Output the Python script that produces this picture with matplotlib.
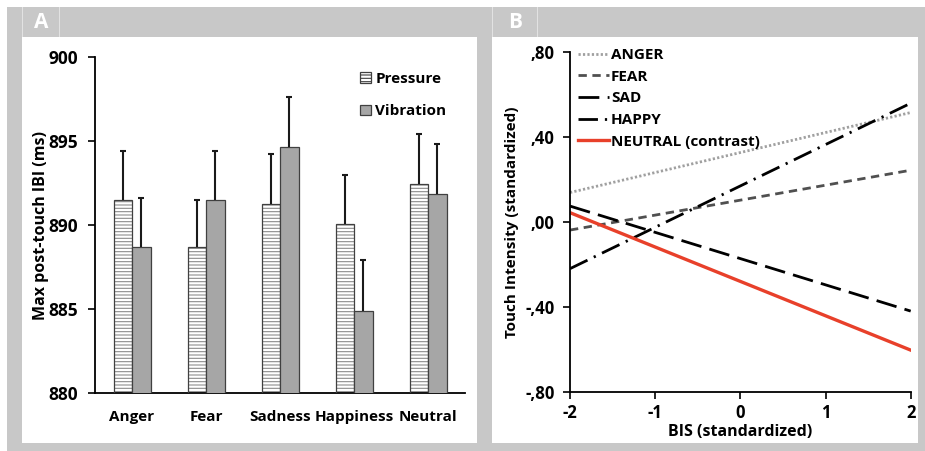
import numpy as np
import matplotlib
matplotlib.use("Agg")
import matplotlib.pyplot as plt
from matplotlib.patches import Rectangle, Patch

plt.rcParams['font.family'] = ['Open Sans', 'DejaVu Sans']
plt.rcParams['font.weight'] = 'bold'
plt.rcParams['hatch.linewidth'] = 0.8
plt.rcParams['axes.unicode_minus'] = False

# panel A data
categories = ["Anger", "Fear", "Sadness", "Happiness", "Neutral"]
pressure = [891.5, 888.7, 891.25, 890.05, 892.45]
pressure_err = [2.9, 2.8, 2.95, 2.95, 2.95]
vibration = [888.7, 891.5, 894.65, 884.9, 891.85]
vibration_err = [2.9, 2.9, 2.95, 3.0, 2.95]
ticks_a = [880, 885, 890, 895, 900]

# panel B data (simple slopes at BIS = -2 and +2)
bis = [-2, 2]
anger = [0.139, 0.516]
fear = [-0.038, 0.244]
sad = [0.075, -0.42]
happy = [-0.22, 0.56]
neutral = [0.044, -0.604]
ticks_b = [-0.8, -0.4, 0.0, 0.4, 0.8]
ticklabels_b = ["-,80", "-,40", ",00", ",40", ",80"]
xticks_b = [-2, -1, 0, 1, 2]

W, H = 925, 451
fig = plt.figure(figsize=(W / 100, H / 100), dpi=100)
fig.patch.set_facecolor("white")

GRAY = "#c8c8c8"


def box(x0, y0, x1, y1, color, z):
    # pixel coords, origin top-left
    r = Rectangle((x0 / W, 1 - y1 / H), (x1 - x0) / W, (y1 - y0) / H,
                  transform=fig.transFigure, facecolor=color, edgecolor="none", zorder=z)
    fig.patches.append(r)


box(7, 7, 925, 451, GRAY, -3)
box(22, 37, 477, 443, "white", -2)
box(492, 37, 918, 443, "white", -2)
# header separators
for xs in [22, 59, 492, 537]:
    box(xs, 7, xs + 1, 37, "#e2e2e2", -2)
fig.text(41 / W, 1 - 23 / H, "A", color="white", fontsize=15, fontweight="bold",
         ha="center", va="center")
fig.text(515 / W, 1 - 23 / H, "B", color="white", fontsize=15, fontweight="bold",
         ha="center", va="center")

# ---- panel A ----
axA = fig.add_axes([95 / W, (H - 393) / H, 370 / W, 336 / H])
axA.patch.set_alpha(0)
x = np.arange(len(categories))
bw = 0.25
axA.bar(x - bw / 2, pressure, bw, color="white", edgecolor="#8c8c8c",
        hatch="-----", linewidth=0, zorder=2)
axA.bar(x - bw / 2, pressure, bw, color="none", edgecolor="#404040", linewidth=0.9, zorder=3)
axA.bar(x + bw / 2, vibration, bw, color="#a6a6a6", edgecolor="#404040", linewidth=0.9, zorder=3)

# upper-only error bars
for xs, vals, errs in [(x - bw / 2, pressure, pressure_err), (x + bw / 2, vibration, vibration_err)]:
    tops = np.array(vals) + np.array(errs)
    axA.vlines(xs, vals, tops, color="#1a1a1a", lw=1.5, zorder=4)
    axA.plot(xs, tops, ls="none", marker="_", ms=5, mew=1.5, color="#1a1a1a", zorder=4)

axA.set_ylim(880, 900)
axA.set_xlim(-0.5, 4.5)
axA.set_yticks(ticks_a)
axA.set_xticks(x)
axA.set_xticklabels(categories, fontsize=11, fontweight="bold")
axA.tick_params(axis="x", length=0, pad=12)
axA.tick_params(axis="y", length=5, width=1.2, labelsize=12.5, pad=7)
for s in ["top", "right"]:
    axA.spines[s].set_visible(False)
for s in ["left", "bottom"]:
    axA.spines[s].set_linewidth(1.3)
axA.set_ylabel("Max post-touch IBI (ms)", fontsize=11.5, fontweight="bold")
axA.yaxis.set_label_coords(-0.125, 0.5)
legA = fig.legend(
    handles=[Patch(facecolor="white", edgecolor="#404040", hatch="-----", linewidth=0.9),
             Patch(facecolor="#a6a6a6", edgecolor="#404040", linewidth=0.9)],
    labels=["Pressure", "Vibration"], loc="upper left",
    bbox_to_anchor=(360 / W, 1 - 72 / H), frameon=False, fontsize=11,
    handlelength=0.7, handleheight=0.7, handletextpad=0.3, labelspacing=1.2,
    borderpad=0, borderaxespad=0)

# ---- panel B ----
axB = fig.add_axes([570 / W, (H - 391.7) / H, 340.7 / W, 339.4 / H])
axB.patch.set_alpha(0)
axB.plot(bis, anger, color="#a0a0a0", lw=2.0, dashes=(0.8, 0.8), label="ANGER")
axB.plot(bis, fear, color="#505050", lw=2.0, dashes=(3.0, 2.0), label="FEAR")
axB.plot(bis, sad, color="black", lw=2.0, dashes=(7.5, 3.0), label="SAD")
axB.plot(bis, happy, color="black", lw=2.0, dashes=(7.0, 2.5, 0.8, 2.5), label="HAPPY")
axB.plot(bis, neutral, color="#e8402a", lw=2.4, label="NEUTRAL (contrast)")
axB.set_xlim(-2, 2)
axB.set_ylim(-0.8, 0.8)
axB.set_yticks(ticks_b)
axB.set_yticklabels(ticklabels_b)
axB.set_xticks(xticks_b)
axB.tick_params(axis="both", length=5, width=1.2, labelsize=12)
axB.tick_params(axis="y", pad=6)
axB.tick_params(axis="x", pad=4)
for s in ["top", "right"]:
    axB.spines[s].set_visible(False)
for s in ["left", "bottom"]:
    axB.spines[s].set_linewidth(1.3)
axB.set_ylabel("Touch Intensity (standardized)", fontsize=11, fontweight="bold")
axB.yaxis.set_label_coords(-0.15, 0.5)
axB.set_xlabel("BIS (standardized)", fontsize=11.5, fontweight="bold", labelpad=1)
h, l = axB.get_legend_handles_labels()
legB = fig.legend(h, l, loc="upper left", bbox_to_anchor=(578 / W, 1 - 48 / H),
                  frameon=False, fontsize=11, handlelength=2.0, handletextpad=0.15,
                  labelspacing=0.5, borderpad=0, borderaxespad=0)

fig.savefig("out.png", dpi=100, facecolor="white")
